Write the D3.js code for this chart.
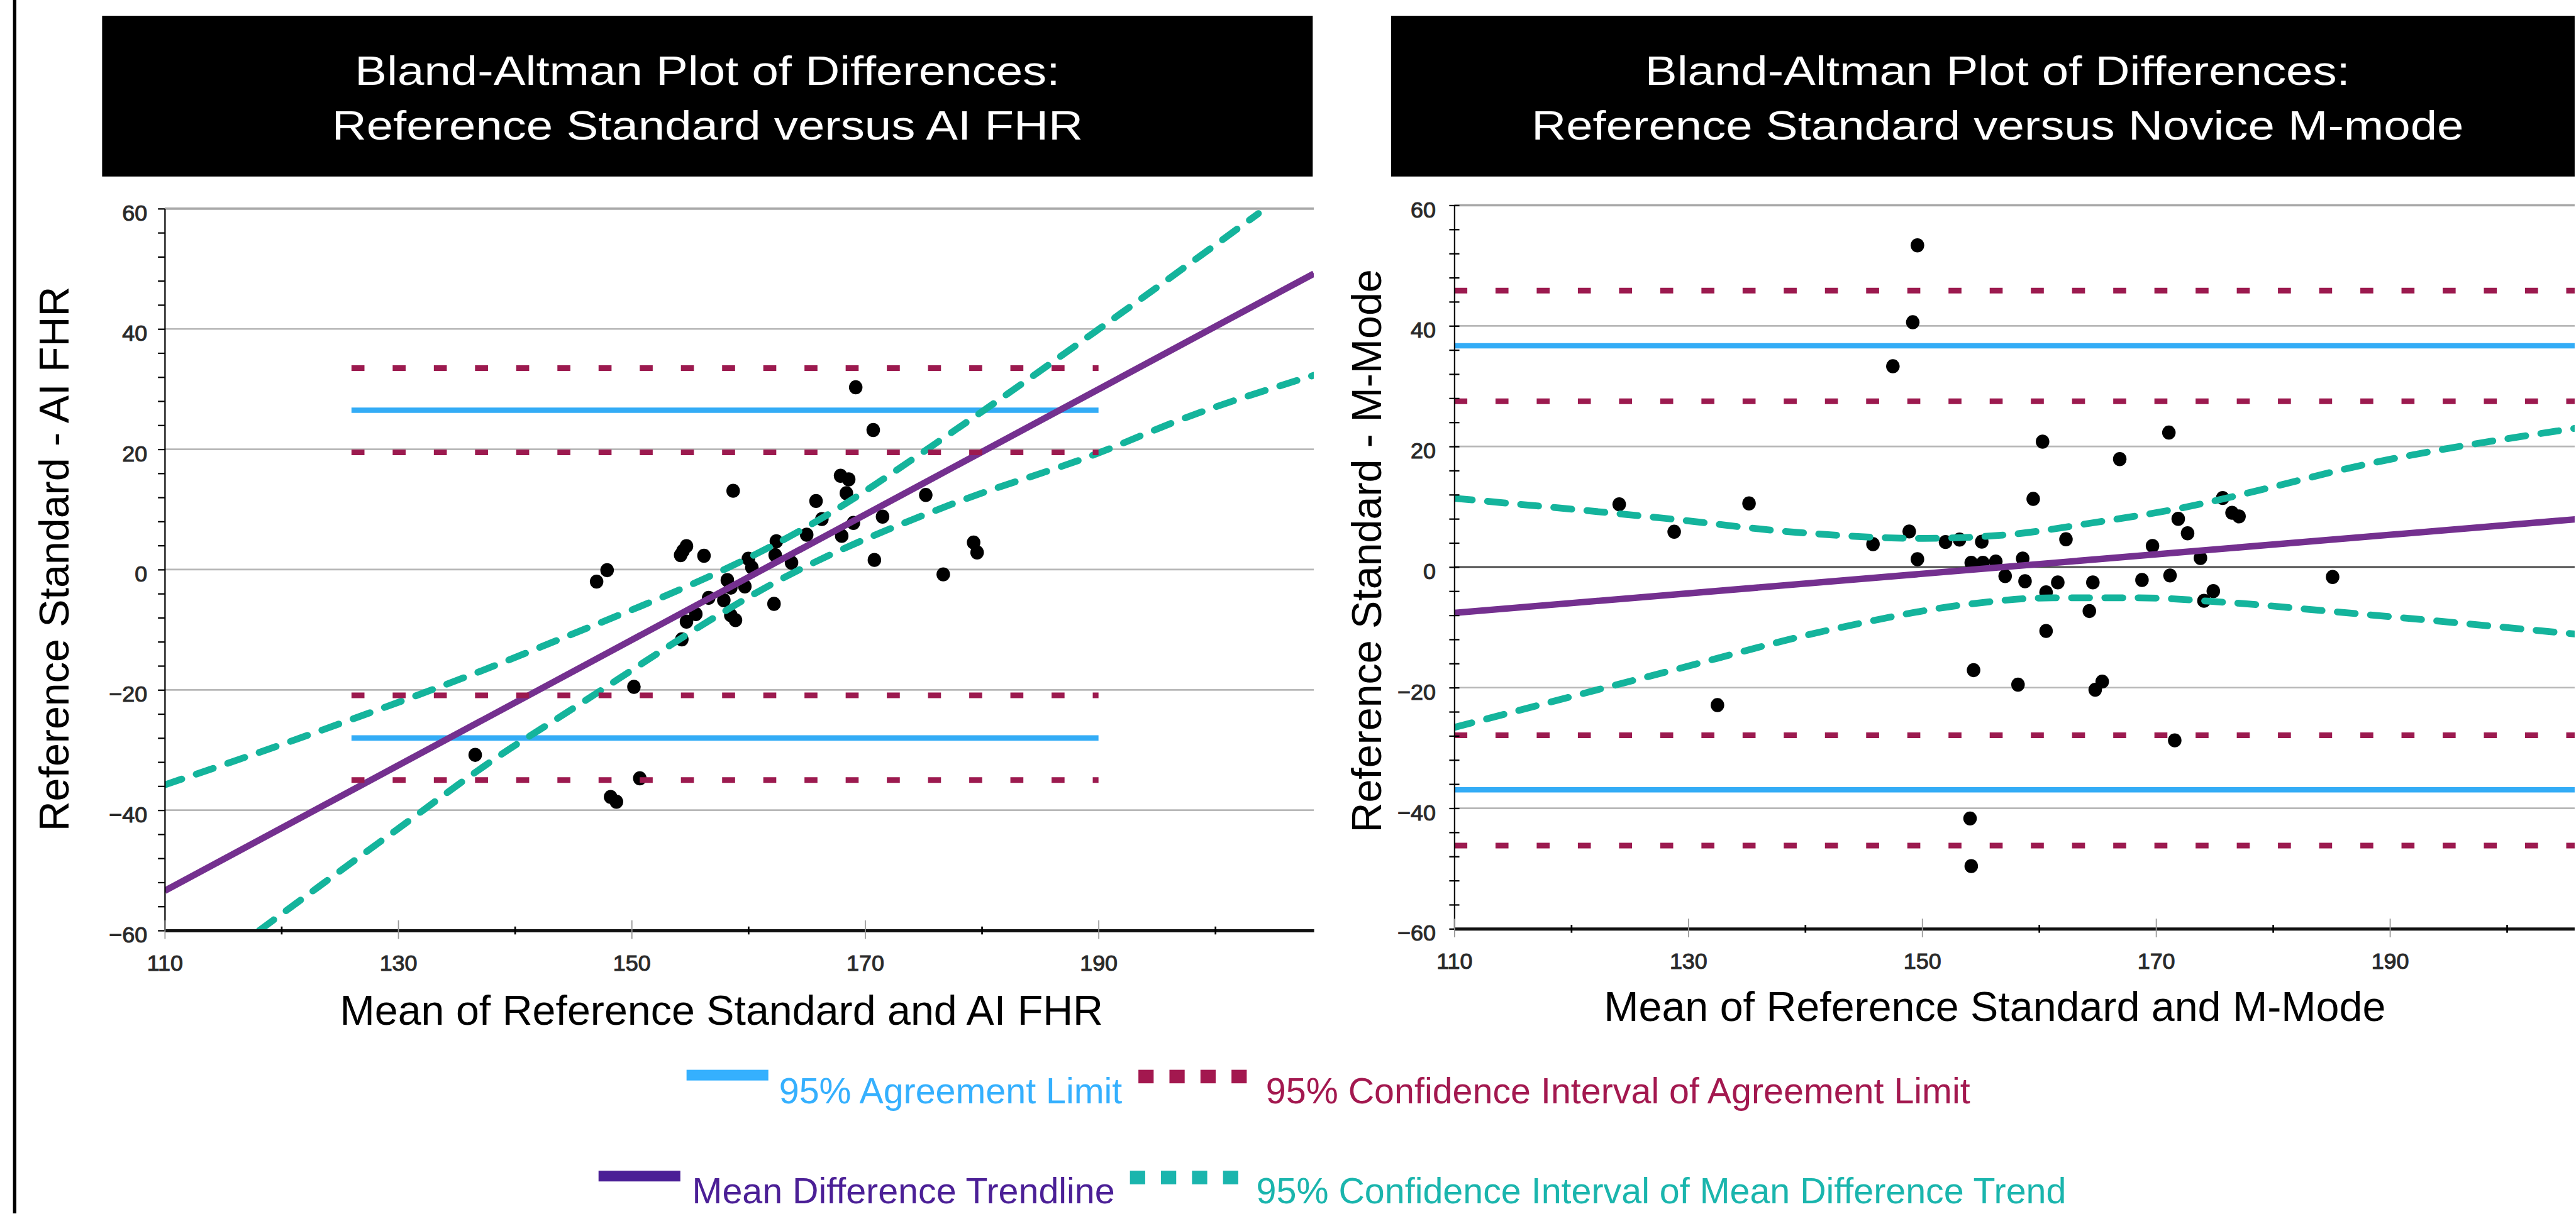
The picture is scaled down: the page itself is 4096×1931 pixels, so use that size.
<!DOCTYPE html>
<html>
<head>
<meta charset="utf-8">
<script src="https://cdn.jsdelivr.net/npm/d3@7"></script>
<style>
  html, body { margin: 0; padding: 0; background: #fff; overflow: hidden; }
  svg { display: block; }
</style>
</head>
<body>
<svg id="chart" width="4096" height="1931"></svg>
<script>
// ---------------- data ----------------
const xTickLabels = [110, 130, 150, 170, 190];
const yTickLabels = [-60, -40, -20, 0, 20, 40, 60];

// Panel 1: reference standard vs AI FHR
const aiTitle = ["Bland-Altman Plot of Differences:", "Reference Standard versus AI FHR"];
const aiXLabel = "Mean of Reference Standard and AI FHR";
const aiYLabel = "Reference Standard - AI FHR";
const aiMean = [169.2, 170.7, 158.7, 167.9, 168.6, 168.4, 165.8, 175.2, 166.3, 169.0,
                171.5, 165.0, 168.0, 162.4, 179.3, 179.6, 162.3, 163.7, 170.8, 160.0,
                160.3, 147.9, 147.0, 154.7, 154.4, 154.2, 156.2, 176.7, 158.2, 159.7,
                158.5, 156.6, 157.9, 162.2, 155.5, 154.7, 158.5, 158.9, 154.3, 150.2,
                150.7, 148.2, 148.7, 136.6];
const aiDiff = [30.3, 23.2, 13.1, 15.6, 15.0, 12.7, 11.4, 12.4, 8.4, 7.75,
                8.8, 5.8, 5.6, 4.7, 4.5, 2.85, 2.4, 1.15, 1.6, 1.8,
                0.35, -0.1, -2.0, 3.9, 3.1, 2.4, 2.3, -0.8, -1.75, -2.8,
                -3.0, -4.7, -5.1, -5.7, -7.4, -8.65, -7.6, -8.4, -11.6, -19.5,
                -34.7, -37.8, -38.6, -30.8];
const aiAgreementLimits = [26.5, -28.0];
const aiLimitCI = [33.5, 19.5, -20.9, -35.0];
const aiLimitSpan = [126, 190];
const aiTrendX = [110, 208.45];
const aiTrendY = [-53.4, 49.2];
const aiTrendUpperX = [110, 123.6, 141.8, 166.6, 178.1, 189.9, 203.7];
const aiTrendUpperY = [-35.8, -26.6, -13.2, 8.9, 23.7, 39.8, 59.2];
const aiTrendLowerX = [118.1, 129.2, 139.4, 143.2, 164.5, 177.6, 189.9, 197.4, 208.45];
const aiTrendLowerY = [-60, -44.2, -30.0, -25.3, 0.1, 11.0, 19.3, 25.2, 32.3];

// Panel 2: reference standard vs novice M-mode
const mmTitle = ["Bland-Altman Plot of Differences:", "Reference Standard versus Novice M-mode"];
const mmXLabel = "Mean of Reference Standard and M-Mode";
const mmYLabel = "Reference Standard - M-Mode";
const mmMean = [149.6, 149.2, 147.5, 171.1, 160.3, 166.9, 135.2, 159.5, 128.8, 148.9,
                145.8, 152.0, 153.2, 155.1, 162.3, 175.7, 176.5, 177.1, 171.9, 172.7,
                169.7, 173.8, 149.6, 154.2, 155.2, 156.3, 158.6, 157.1, 158.8, 161.6,
                164.6, 168.8, 171.2, 185.1, 160.6, 174.9, 174.1, 164.3, 160.6, 154.4,
                158.2, 165.4, 164.8, 132.5, 171.6, 154.1, 154.2, 124.1];
const mmDiff = [53.35, 40.6, 33.3, 22.3, 20.8, 17.9, 10.55, 11.3, 5.85, 5.9,
                3.8, 4.15, 4.55, 4.2, 4.6, 11.45, 9.0, 8.4, 8.0, 5.6,
                3.5, 1.5, 1.3, 0.7, 0.7, 0.9, 1.4, -1.5, -2.35, -2.55,
                -2.55, -2.15, -1.4, -1.65, -4.2, -4.0, -5.6, -7.3, -10.6, -17.1,
                -19.5, -19.0, -20.35, -22.9, -28.75, -41.7, -49.6, 10.4];
const mmAgreementLimits = [36.7, -36.95];
const mmLimitCI = [45.85, 27.5, -27.9, -46.2];
const mmLimitSpan = [110, 208.26];
const mmTrendX = [110, 208.26];
const mmTrendY = [-7.6, 8.3];
const mmTrendUpperX = [110, 127.9, 139.0, 150.1, 157.5, 164.8, 172.2, 179.6, 185.8, 205.8];
const mmTrendUpperY = [11.4, 8.1, 5.8, 4.75, 5.4, 7.4, 9.8, 13.1, 16.1, 23.0];
const mmTrendLowerX = [110, 127.9, 142.5, 153.8, 161.2, 168.5, 175.9, 185.8, 205.8];
const mmTrendLowerY = [-26.6, -17.5, -10.25, -6.2, -5.1, -5.1, -5.85, -7.5, -11.1];

// Legend
const legendLabels = ["95% Agreement Limit", "95% Confidence Interval of Agreement Limit",
                      "Mean Difference Trendline", "95% Confidence Interval of Mean Difference Trend"];

// ---------------- styles ----------------
const FONT = "'Liberation Sans', Arial, Helvetica, sans-serif";
const C_AGREE = "#33acf6";
const C_CI = "#9c1a4f";
const C_TREND = "#74308f";
const C_TREND_CI = "#14b49c";
const L_AGREE = "#35b0fe";
const L_CI = "#a3184f";
const L_TREND = "#4b1f96";
const L_TREND_CI = "#1ab5ad";

// The drawing is laid out on a 4564 x 2152 grid and scaled to the window.
const SCALE = 0.897;
const svg = d3.select("#chart");
const defs = svg.append("defs");
defs.append("clipPath").attr("id", "page")
  .append("rect").attr("x", 0).attr("y", 0).attr("width", 4564).attr("height", 2152);
const root = svg.append("g").attr("transform", `scale(${SCALE})`)
  .append("g").attr("clip-path", "url(#page)");

root.append("rect").attr("x", 0).attr("y", 0).attr("width", 4564).attr("height", 2152).attr("fill", "#fff");
// left frame rule
root.append("rect").attr("x", 23).attr("y", 0).attr("width", 6).attr("height", 2152).attr("fill", "#000");

function zip(xs, ys) { return xs.map((v, i) => [v, ys[i]]); }

function drawPanel(cfg) {
  const g = root.append("g");
  const x = d3.scaleLinear().domain(cfg.xDomain).range([cfg.left, cfg.right]);
  const y = d3.scaleLinear().domain([-60, 60]).range([cfg.bottom, cfg.top]);

  const clipId = "plot-" + cfg.id;
  defs.append("clipPath").attr("id", clipId).append("rect")
    .attr("x", cfg.left).attr("y", cfg.top)
    .attr("width", cfg.right - cfg.left).attr("height", cfg.bottom - cfg.top);

  // Title banner
  g.append("rect").attr("x", cfg.boxX0).attr("y", 28)
    .attr("width", cfg.boxX1 - cfg.boxX0).attr("height", 285).attr("fill", "#000");
  cfg.title.forEach((t, i) => {
    g.append("text")
      .attr("transform", `translate(${cfg.titleCx},${[150, 247][i]}) scale(1.18,1)`)
      .attr("text-anchor", "middle")
      .attr("font-family", FONT).attr("font-size", 72).attr("fill", "#fff")
      .text(t);
  });

  // Horizontal gridlines
  const gridVals = yTickLabels.filter(v => v !== -60);
  g.append("g").selectAll("line").data(gridVals).join("line")
    .attr("x1", cfg.left).attr("x2", cfg.right)
    .attr("y1", d => y(d)).attr("y2", d => y(d))
    .attr("stroke", d => (d === 0 && cfg.darkZero) ? "#4a4a4a" : (d === 60 ? "#a8a8a8" : "#b8b8b8"))
    .attr("stroke-width", d => d === 60 ? 4 : 3);

  const plot = g.append("g").attr("clip-path", `url(#${clipId})`);

  // Data points
  plot.append("g").selectAll("ellipse").data(zip(cfg.mean, cfg.diff)).join("ellipse")
    .attr("cx", d => x(d[0])).attr("cy", d => y(d[1])).attr("rx", 12).attr("ry", 12.5)
    .attr("fill", "#000");

  // 95% agreement limits
  plot.append("g").selectAll("line").data(cfg.agree).join("line")
    .attr("x1", x(cfg.span[0])).attr("x2", x(cfg.span[1]))
    .attr("y1", d => y(d)).attr("y2", d => y(d))
    .attr("stroke", C_AGREE).attr("stroke-width", 9.5);

  // Mean difference trendline
  const line = d3.line().x(d => x(d[0])).y(d => y(d[1]));
  plot.append("path").datum(zip(cfg.trendX, cfg.trendY))
    .attr("d", line).attr("fill", "none")
    .attr("stroke", C_TREND).attr("stroke-width", 11.5);

  // Confidence band of the trend
  const curve = d3.line().x(d => x(d[0])).y(d => y(d[1])).curve(d3.curveMonotoneX);
  [zip(cfg.upX, cfg.upY), zip(cfg.loX, cfg.loY)].forEach(pts => {
    plot.append("path").datum(pts)
      .attr("d", curve).attr("fill", "none")
      .attr("stroke", C_TREND_CI).attr("stroke-width", 12)
      .attr("stroke-linecap", "round")
      .attr("stroke-dasharray", "32,27");
  });

  // Confidence interval of agreement limits
  plot.append("g").selectAll("line").data(cfg.ci).join("line")
    .attr("x1", x(cfg.span[0])).attr("x2", x(cfg.span[1]))
    .attr("y1", d => y(d)).attr("y2", d => y(d))
    .attr("stroke", C_CI).attr("stroke-width", 10)
    .attr("stroke-dasharray", "23,50");

  // Y axis: minor ticks every 4 units
  const yMinor = g.append("g").attr("transform", `translate(${cfg.left},0)`)
    .call(d3.axisLeft(y).tickValues(d3.range(-60, 61, 4)).tickSize(12).tickSizeOuter(0).tickFormat(""));
  yMinor.select(".domain").attr("stroke", "#000").attr("stroke-width", 2.5);
  yMinor.selectAll(".tick line").attr("stroke", "#000").attr("stroke-width", 2.5);
  if (cfg.crossTicks) yMinor.selectAll(".tick line").attr("x1", 9).attr("x2", -9);

  // Y axis labels
  const yLab = g.append("g").attr("transform", `translate(${cfg.left},0)`)
    .call(d3.axisLeft(y).tickValues(yTickLabels).tickSize(0).tickPadding(cfg.yPad));
  yLab.select(".domain").remove();
  yLab.selectAll("text").attr("font-family", FONT).attr("font-size", 40)
    .attr("fill", "#2a2a2a").attr("stroke", "#2a2a2a").attr("stroke-width", 1.2)
    .attr("dy", "0.52em");

  // X axis: thick base line with minor ticks
  const xMinor = g.append("g").attr("transform", `translate(0,${cfg.bottom})`)
    .call(d3.axisBottom(x).tickValues([120, 140, 160, 180, 200]).tickSize(6).tickSizeOuter(0).tickFormat(""));
  xMinor.select(".domain").attr("stroke", "#111").attr("stroke-width", 5.5);
  xMinor.selectAll(".tick line").attr("y1", -7).attr("y2", 7).attr("stroke", "#000").attr("stroke-width", 3);

  const xMajor = g.append("g").attr("transform", `translate(0,${cfg.bottom})`)
    .call(d3.axisBottom(x).tickValues(xTickLabels).tickSize(0).tickPadding(43));
  xMajor.select(".domain").remove();
  xMajor.selectAll(".tick line").attr("y1", -18).attr("y2", 15).attr("stroke", "#999").attr("stroke-width", 2);
  xMajor.selectAll("text").attr("font-family", FONT).attr("font-size", 40)
    .attr("fill", "#2a2a2a").attr("stroke", "#2a2a2a").attr("stroke-width", 1.2);

  // Axis titles
  g.append("text")
    .attr("transform", `translate(${cfg.yTitleX},${cfg.yTitleY}) rotate(-90)`)
    .attr("text-anchor", "middle")
    .attr("font-family", FONT).attr("font-size", 74).attr("fill", "#000")
    .text(cfg.yLabel);
  g.append("text")
    .attr("x", cfg.xTitleX).attr("y", cfg.xTitleY)
    .attr("text-anchor", "middle")
    .attr("font-family", FONT).attr("font-size", 74).attr("fill", "#000")
    .text(cfg.xLabel);
}

drawPanel({
  id: "ai", title: aiTitle, xLabel: aiXLabel, yLabel: aiYLabel,
  left: 292, right: 2329, top: 370, bottom: 1650, xDomain: [110, 208.45],
  boxX0: 181, boxX1: 2327, titleCx: 1254,
  yTitleX: 121, yTitleY: 991, xTitleX: 1279, xTitleY: 1817, yPad: 31,
  crossTicks: false, darkZero: false,
  mean: aiMean, diff: aiDiff, agree: aiAgreementLimits, ci: aiLimitCI, span: aiLimitSpan,
  trendX: aiTrendX, trendY: aiTrendY,
  upX: aiTrendUpperX, upY: aiTrendUpperY, loX: aiTrendLowerX, loY: aiTrendLowerY
});

drawPanel({
  id: "mm", title: mmTitle, xLabel: mmXLabel, yLabel: mmYLabel,
  left: 2578, right: 4615, top: 364, bottom: 1647, xDomain: [110, 208.26],
  boxX0: 2466, boxX1: 4612, titleCx: 3541,
  yTitleX: 2448, yTitleY: 977, xTitleX: 3536, xTitleY: 1810, yPad: 33,
  crossTicks: true, darkZero: true,
  mean: mmMean, diff: mmDiff, agree: mmAgreementLimits, ci: mmLimitCI, span: mmLimitSpan,
  trendX: mmTrendX, trendY: mmTrendY,
  upX: mmTrendUpperX, upY: mmTrendUpperY, loX: mmTrendLowerX, loY: mmTrendLowerY
});

// ---------------- legend ----------------
const legend = root.append("g");
const legendItems = [
  { label: legendLabels[0], color: L_AGREE, kind: "solid", sx: 1217, sy: 1897, tx: 1381, ty: 1956 },
  { label: legendLabels[1], color: L_CI, kind: "dash", sx: 2018, sy: 1897, tx: 2244, ty: 1956 },
  { label: legendLabels[2], color: L_TREND, kind: "solid", sx: 1061, sy: 2076, tx: 1227, ty: 2134 },
  { label: legendLabels[3], color: L_TREND_CI, kind: "dash", sx: 2003, sy: 2076, tx: 2227, ty: 2134 }
];
legendItems.forEach(it => {
  if (it.kind === "solid") {
    legend.append("rect").attr("x", it.sx).attr("y", it.sy)
      .attr("width", 145).attr("height", 19).attr("fill", it.color);
  } else {
    legend.append("g").selectAll("rect").data(d3.range(4)).join("rect")
      .attr("x", i => it.sx + i * 55).attr("y", it.sy)
      .attr("width", 27).attr("height", 24).attr("fill", it.color);
  }
  legend.append("text").attr("x", it.tx).attr("y", it.ty)
    .attr("font-family", FONT).attr("font-size", 64).attr("fill", it.color)
    .text(it.label);
});
</script>
</body>
</html>
